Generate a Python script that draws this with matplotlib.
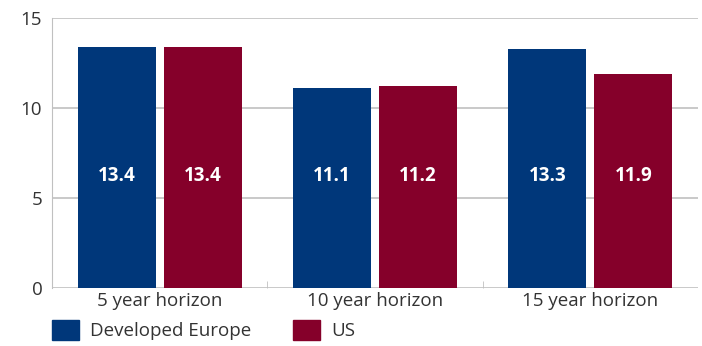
import numpy as np
import matplotlib.pyplot as plt
from matplotlib.patches import Patch

categories = ['5 year horizon', '10 year horizon', '15 year horizon']
europe = [13.4, 11.1, 13.3]
us = [13.4, 11.2, 11.9]
series_names = ['Developed Europe', 'US']
yticks = [0, 5, 10, 15]

blue = '#00377a'
red = '#85002a'
plt.rcParams['font.family'] = ['Open Sans', 'DejaVu Sans']

fig = plt.figure(figsize=(7.02, 3.46), dpi=100)
ax = fig.add_axes([52/702, 1 - 288/346, 646/702, 270/346])

x = np.arange(len(categories))
w = 0.363
ax.bar(x - 0.2, europe, w, color=blue, zorder=3)
ax.bar(x + 0.2, us, w, color=red, zorder=3)

for xs, vals in [(x - 0.2, europe), (x + 0.2, us)]:
    for xi, v in zip(xs, vals):
        ax.text(xi, 6.2, f'{v:.1f}', ha='center', va='center', color='white',
                fontsize=13.5, fontweight='bold', zorder=4)

ax.set_xlim(-0.5, 2.5)
ax.set_ylim(0, 15)
ax.set_yticks(yticks)
ax.yaxis.grid(True, color='#c0c0c0', linewidth=1.2, zorder=0)
ax.tick_params(axis='y', length=0, labelsize=13.5, colors='#333333', pad=7)
ax.set_xticks(x)
ax.set_xticklabels(categories)
ax.tick_params(axis='x', length=0, labelsize=13.5, colors='#333333', pad=3)
ax.set_xticks([0.5, 1.5], minor=True)
ax.tick_params(axis='x', which='minor', length=5, color='#c0c0c0', direction='in')
for s in ['top', 'right', 'bottom']:
    ax.spines[s].set_visible(False)
ax.spines['left'].set_color('#c0c0c0')

handles = [Patch(color=blue), Patch(color=red)]
fig.legend(handles, series_names, loc='center left', bbox_to_anchor=(52/702, 1 - 330/346),
           ncol=2, frameon=False, fontsize=13.5, handlelength=1.44, handleheight=1.28,
           columnspacing=2.2, handletextpad=0.6, borderpad=0, borderaxespad=0,
           labelcolor='#333333')

fig.savefig('out.png', dpi=100)
